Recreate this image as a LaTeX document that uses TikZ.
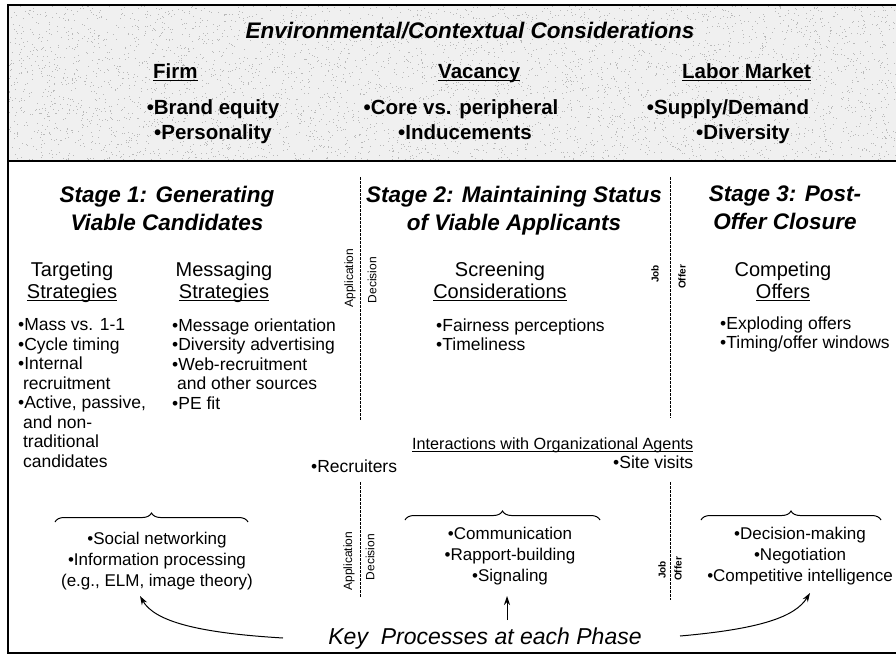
\documentclass[tikz,border=0pt]{standalone}
\usepackage{fontspec}
\setmainfont{Liberation Sans}
\usetikzlibrary{decorations.pathreplacing,arrows.meta}
\newcommand\uln[1]{\leavevmode\setbox0=\hbox{#1}\rlap{\rule[-2.6pt]{\wd0}{1.1pt}}\box0}
\newcommand\fs[2]{\fontsize{#1}{#2}\selectfont}
\begin{document}
\begin{tikzpicture}[x=1pt,y=-1pt,
  banner/.style={font=\fs{20.5}{24}\bfseries, inner sep=0},
  titletxt/.style={font=\fs{22.5}{26}\bfseries\itshape, inner sep=0},
  stagehd/.style={font=\fs{22.5}{27.5}\bfseries\itshape, inner sep=0, align=center},
  subhd/.style={font=\fs{20}{22}, inner sep=0, align=center},
  lst/.style={font=\fs{17.5}{19.5}, inner sep=0, align=left},
  tinytxt/.style={font=\fs{12}{12}, inner sep=0, rotate=90},
  tinyb/.style={font=\fs{10}{10}\bfseries, inner sep=0, rotate=90},
  proc/.style={font=\fs{17}{21}, inner sep=0, align=center},
  divider/.style={line width=1pt, dash pattern=on 2.5pt off 1.5pt},
  frameline/.style={line width=1.2pt},
  brc/.style={decorate, decoration={brace, amplitude=9pt}, line width=1pt},
  arr/.style={line width=1pt, -{Stealth[length=9pt,width=6pt]}},
]
\useasboundingbox (0,0) rectangle (896,659);
% banner background
\fill[gray!12] (8,5) rectangle (896,161);
\pgfmathsetseed{42}
\foreach \i in {1,...,4500}{%
  \pgfmathsetmacro\rx{8+887*rnd}%
  \pgfmathsetmacro\ry{5+155*rnd}%
  \fill[gray!55] (\rx,\ry) rectangle ++(0.9,0.9);}
\draw[frameline] (896,5) -- (8,5) -- (8,653) -- (896,653);
\draw[frameline] (8,161) -- (896,161);

% banner texts
\node[titletxt, anchor=base] (envt) at (470,38) {Environmental/Contextual Considerations};
\node[banner, anchor=base west] (firmh) at (153,78) {\uln{Firm}};
\node[banner, anchor=base] (firm1) at (213,114) {•Brand equity};
\node[banner, anchor=base] (firm2) at (213,139) {•Personality};
\node[banner, anchor=base west] (vach) at (438,78) {\uln{Vacancy}};
\node[banner, anchor=base] (vac1) at (461,114) {•Core vs. peripheral};
\node[banner, anchor=base] (vac2) at (465,139) {•Inducements};
\node[banner, anchor=base west] (lmh) at (682,78) {\uln{Labor Market}};
\node[banner, anchor=base] (lm1) at (728,114) {•Supply/Demand};
\node[banner, anchor=base] (lm2) at (743,139) {•Diversity};

% stage headers
\node[stagehd, anchor=north] (s1) at (167,186) {Stage 1: Generating\\Viable Candidates};
\node[stagehd, anchor=north] (s2) at (514,186) {Stage 2: Maintaining Status\\of Viable Applicants};
\node[stagehd, anchor=north] (s3) at (785,186) {Stage 3: Post-\\Offer Closure};

% sub headers
\node[subhd, anchor=north] (tg) at (72,261.5) {Targeting\\\uln{Strategies}};
\node[subhd, anchor=north] (ms) at (224,261.5) {Messaging\\\uln{Strategies}};
\node[subhd, anchor=north] (sc) at (500,261.5) {Screening\\\uln{Considerations}};
\node[subhd, anchor=north] (cp) at (783,261.5) {Competing\\\uln{Offers}};

% lists
\node[lst, anchor=north west] (tgl) at (18,318.5) {•Mass vs. 1-1\\•Cycle timing\\•Internal\\\ recruitment\\•Active, passive,\\\ and non-\\\ traditional\\\ candidates};
\node[lst, anchor=north west] (msl) at (172,318.5) {•Message orientation\\•Diversity advertising\\•Web-recruitment\\\ and other sources\\•PE fit};
\node[lst, anchor=north west] (scl) at (436,318.5) {•Fairness perceptions\\•Timeliness};
\node[lst, anchor=north west] (cpl) at (720,316.5) {•Exploding offers\\•Timing/offer windows};

% interactions
\node[font=\fs{16.2}{20}, inner sep=0, anchor=base west] (iwo) at (412,449) {\uln{Interactions with Organizational Agents}};
\node[lst, anchor=base west] (rec) at (311,472) {•Recruiters};
\node[lst, anchor=base west] (site) at (613,468) {•Site visits};

% dividers
\coordinate (d1a) at (360,177); \coordinate (d1b) at (360,420);
\coordinate (d1c) at (360,482); \coordinate (d1d) at (360,597);
\coordinate (d2a) at (670,177); \coordinate (d2b) at (670,418);
\coordinate (d2c) at (670,482); \coordinate (d2d) at (670,600);
\draw[divider] (d1a) -- (d1b);
\draw[divider] (d1c) -- (d1d);
\draw[divider] (d2a) -- (d2b);
\draw[divider] (d2c) -- (d2d);

% rotated labels
\node[tinytxt] (app1) at (350,278) {Application};
\node[tinytxt] (dec1) at (372,280) {Decision};
\node[tinyb] (job1) at (655,274) {Job};
\node[tinyb] (off1) at (682,277) {Offer};
\node[tinytxt] (app2) at (349,561) {Application};
\node[tinytxt] (dec2) at (370,557) {Decision};
\node[tinyb] (job2) at (662,570) {Job};
\node[tinyb] (off2) at (678,569) {Offer};

% braces
\coordinate (br1l) at (55,522); \coordinate (br1r) at (248,522);
\coordinate (br2l) at (405,520); \coordinate (br2r) at (600,520);
\coordinate (br3l) at (701,520); \coordinate (br3r) at (881,520);
\draw[brc] (br1l) -- (br1r);
\draw[brc] (br2l) -- (br2r);
\draw[brc] (br3l) -- (br3r);

% processes
\node[proc, anchor=north] (b1) at (157,531.5) {•Social networking\\•Information processing\\(e.g., ELM, image theory)};
\node[proc, anchor=north] (b2) at (510,526.5) {•Communication\\•Rapport-building\\•Signaling};
\node[proc, anchor=north] (b3) at (800,526.5) {•Decision-making\\•Negotiation\\•Competitive intelligence};

\node[font=\fs{23}{26}\itshape, inner sep=0, anchor=base] (key) at (485,644) {Key~~Processes at each Phase};

% arrows
\coordinate (a1s) at (283,638); \coordinate (a1e) at (140,596);
\coordinate (a2s) at (507,620); \coordinate (a2e) at (507,596);
\coordinate (a3s) at (680,636); \coordinate (a3e) at (810,593);
\draw[arr] (a1s) .. controls (200,633) and (155,622) .. (a1e);
\draw[arr] (a2s) -- (a2e);
\draw[arr] (a3s) .. controls (760,629) and (795,617) .. (a3e);
\end{tikzpicture}
\end{document}
